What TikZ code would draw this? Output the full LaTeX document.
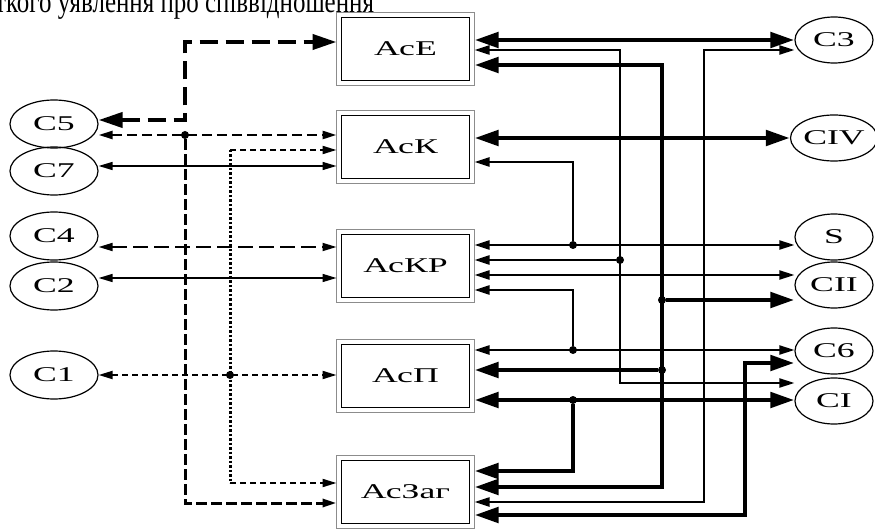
\documentclass[tikz,border=0pt]{standalone}
\usepackage{fontspec}
\setmainfont{Liberation Serif}
\newfontfamily\lblfont[FakeStretch=1.7]{Liberation Serif}
\newfontfamily\capfont[FakeStretch=0.78]{Liberation Serif}
\usetikzlibrary{shapes.geometric, arrows.meta, positioning}

\begin{document}
\begin{tikzpicture}[
  x=1pt, y=-1pt,
  box/.style={draw, line width=1.5pt, minimum width=128pt, minimum height=63pt, outer sep=5pt, font=\lblfont\fontsize{21}{24}\selectfont},
  frame/.style={draw=black!45, line width=0.9pt},
  lsrc/.style={ellipse, draw, line width=1.2pt, minimum width=88pt, minimum height=48pt, inner sep=0pt, font=\lblfont\fontsize{21}{24}\selectfont},
  rsrc/.style={ellipse, draw, line width=1.2pt, minimum width=78pt, minimum height=46pt, inner sep=0pt, font=\lblfont\fontsize{21}{24}\selectfont},
  dot/.style={circle, fill, inner sep=0pt, minimum size=8pt},
  thin/.style={line width=1.5pt, >={Triangle[length=14pt,width=8pt]}},
  mid/.style={line width=2.2pt, >={Triangle[length=15pt,width=9pt]}},
  bold/.style={line width=4.8pt, >={Triangle[length=24pt,width=15pt]}},
  heavydash/.style={line width=4pt, dash pattern=on 18pt off 8pt, >={Triangle[length=24pt,width=15pt]}},
  middash/.style={line width=2.5pt, dash pattern=on 10pt off 5pt, >={Triangle[length=14pt,width=8pt]}},
  vdash/.style={line width=3pt, dash pattern=on 11pt off 4pt, >={Triangle[length=14pt,width=8pt]}},
  longdash/.style={line width=1.8pt, dash pattern=on 15pt off 6pt, >={Triangle[length=14pt,width=8pt]}},
  shortdash/.style={line width=2pt, dash pattern=on 6pt off 4pt, >={Triangle[length=14pt,width=8pt]}},
  dotline/.style={line width=3pt, dash pattern=on 2.5pt off 2pt}
]
\useasboundingbox (0,0) rectangle (875,529);

% caption remnant
\node[anchor=base west, inner sep=0pt, font=\capfont\fontsize{32}{34}\selectfont] (cap) at (-5,13) {ткого уявлення про співвідношення};

% Column 2: subsystems
\node[box] (ace) at (405.5,49) {АсЕ};
\node[box] (ack) at (405.5,147) {АсК};
\node[box] (ackr) at (405.5,266) {АсКР};
\node[box] (acp) at (405.5,376) {АсП};
\node[box] (aczag) at (405.5,492) {АсЗаг};
\foreach \b in {ace,ack,ackr,acp,aczag}
  \draw[frame] (\b.north west) rectangle (\b.south east);

% Column 1: left sources
\node[lsrc] (c5) at (54,124) {С5};
\node[lsrc] (c7) at (54,171) {С7};
\node[lsrc] (c4) at (54,236) {С4};
\node[lsrc] (c2) at (54,286) {С2};
\node[lsrc] (c1) at (54,375) {С1};

% Column 3: right sources
\node[rsrc] (c3) at (834,40) {С3};
\node[rsrc] (civ) at (834,138) {СIV};
\node[rsrc] (s) at (834,237) {S};
\node[rsrc] (cii) at (834,285) {СII};
\node[rsrc] (c6) at (834,351) {С6};
\node[rsrc] (ci) at (834,401) {СI};

% bus corners and junctions
\coordinate (kE) at (185,42);
\node[dot] (jL) at (185,135) {};
\coordinate (kLz) at (185,503);
\coordinate (kD) at (230,150);
\node[dot] (jD) at (230,375) {};
\coordinate (kDz) at (230,483);
\coordinate (c5a) at ([yshift=4pt]c5.east);
\coordinate (c7a) at ([yshift=5pt]c7.east);
\coordinate (c4a) at ([yshift=-11pt]c4.east);
\coordinate (c2a) at ([yshift=8pt]c2.east);
\coordinate (ciia) at ([yshift=10pt]cii.west);

\coordinate (aTop) at (573,162);
\node[dot] (jS) at (573,245) {};
\coordinate (aMid) at (573,290);
\node[dot] (j6) at (573,350) {};
\node[dot] (jI) at (573,400) {};
\coordinate (aBot) at (573,471);
\coordinate (bTop) at (620,50);
\node[dot] (jR) at (620,260) {};
\coordinate (bBot) at (620,383);
\coordinate (cTop) at (662,65);
\node[dot] (jII) at (662,300) {};
\node[dot] (jP) at (662,370) {};
\coordinate (cBot) at (662,487);
\coordinate (dTop) at (704,50);
\coordinate (dBot) at (704,502);
\coordinate (eTop) at (745,363);
\coordinate (eBot) at (745,515);

% left links
\draw[heavydash, <->] (c5a) -| (kE) -- (ace.west |- kE);
\draw[middash, <->] (c5.east |- jL) -- (ack.west |- jL);
\draw[vdash, ->] (jL) -- (kLz) -- (aczag.west |- kLz);
\draw[dotline] (kD) -- (kDz);
\draw[shortdash, ->] (kD) -- (ack.west |- kD);
\draw[shortdash, ->] (kDz) -- (aczag.west |- kDz);
\draw[thin, <->] (c7a) -- (ack.west |- c7a);
\draw[longdash, <->] (c4a) -- (ackr.west |- c4a);
\draw[thin, <->] (c2a) -- (ackr.west |- c2a);
\draw[shortdash, <->] (c1.east |- jD) -- (acp.west |- jD);

% right links
\draw[bold, <->] (ace.east |- c3) -- (c3.west);
\draw[mid, <->] (ace.east |- bTop) -- (bTop) -- (bBot) -- (ci.west |- bBot);
\draw[mid, ->] (jR) -- (ackr.east |- jR);
\draw[bold, <->] (ace.east |- cTop) -- (cTop) -- (cBot) -- (aczag.east |- cBot);
\draw[bold, ->] (jII) -- (cii.west |- jII);
\draw[bold, ->] (jP) -- (acp.east |- jP);
\draw[mid, <->] (c3.west |- dTop) -- (dTop) -- (dBot) -- (aczag.east |- dBot);
\draw[bold, <->] (ack.east |- civ) -- (civ.west);
\draw[mid, <-] (ack.east |- aTop) -- (aTop) -- (jS);
\draw[mid, <->] (ackr.east |- jS) -- (s.west |- jS);
\draw[mid, <->] (ackr.east |- ciia) -- (ciia);
\draw[mid, <-] (ackr.east |- aMid) -- (aMid) -- (j6);
\draw[mid, <->] (acp.east |- j6) -- (c6.west |- j6);
\draw[bold, <->] (acp.east |- jI) -- (ci.west |- jI);
\draw[bold, ->] (jI) -- (aBot) -- (aczag.east |- aBot);
\draw[bold, <->] (c6.west |- eTop) -- (eTop) -- (eBot) -- (aczag.east |- eBot);

\end{tikzpicture}
\end{document}
